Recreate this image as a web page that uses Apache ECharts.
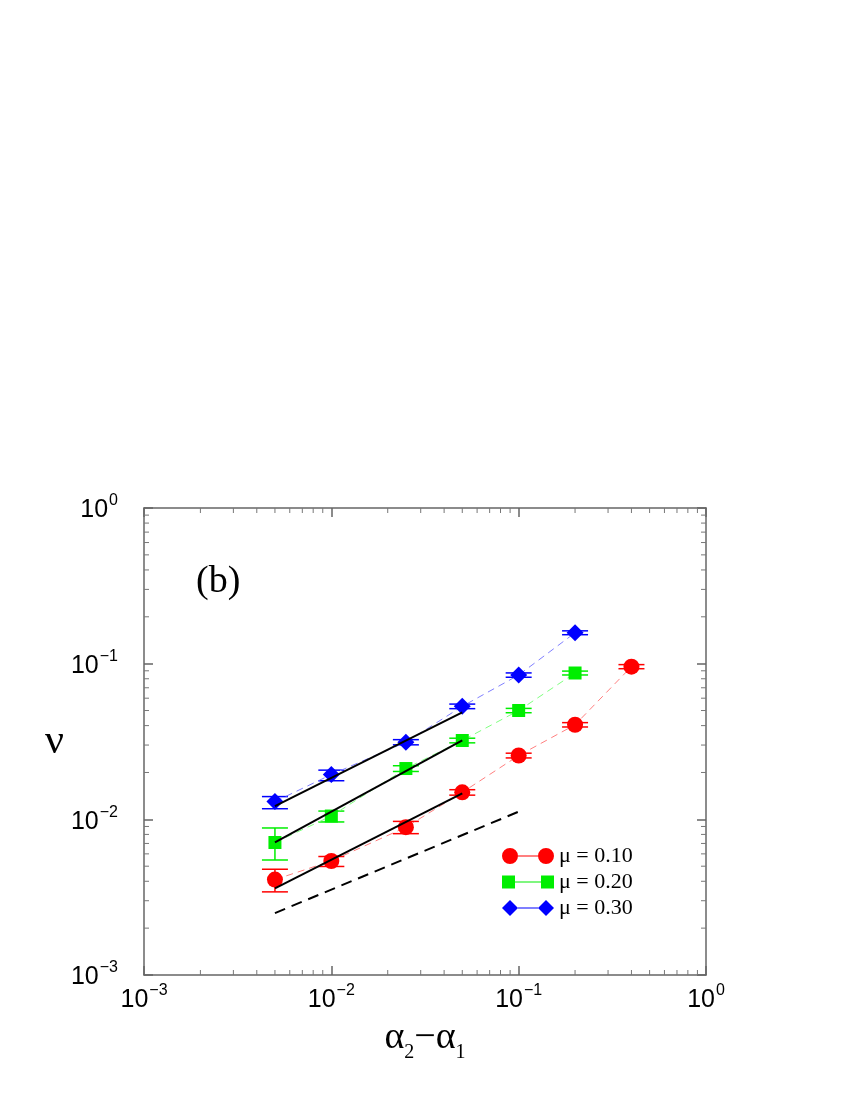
<!DOCTYPE html>
<html lang="en">
<head>
    <meta charset="UTF-8">
    <title>nu vs alpha2-alpha1</title>
    <script src="https://cdn.jsdelivr.net/npm/echarts@6/dist/echarts.min.js"></script>
</head>
<body style="margin:0;background:#fff;">
<div id="main" style="width: 850px;height:1100px;"></div>

<script type="text/javascript">
    // data
    var xs10 = [0.005, 0.01, 0.025, 0.05, 0.1, 0.2, 0.4];
    var nu10 = [0.0041, 0.0054, 0.0089, 0.0149, 0.0257, 0.0405, 0.0957];
    var lo10 = [0.00342, 0.00498, 0.00809, 0.0143, 0.0248, 0.0392, 0.0928];
    var hi10 = [0.00478, 0.00577, 0.0097, 0.0155, 0.0266, 0.0418, 0.0986];

    var xs20 = [0.005, 0.01, 0.025, 0.05, 0.1, 0.2];
    var nu20 = [0.0071, 0.0105, 0.0212, 0.0321, 0.050, 0.0871];
    var lo20 = [0.00548, 0.00962, 0.0203, 0.0310, 0.0484, 0.0846];
    var hi20 = [0.0088, 0.0113, 0.0221, 0.0332, 0.0516, 0.0896];

    var xs30 = [0.005, 0.01, 0.025, 0.05, 0.1, 0.2];
    var nu30 = [0.0130, 0.0194, 0.0313, 0.0532, 0.0845, 0.158];
    var lo30 = [0.0117, 0.0177, 0.0301, 0.0514, 0.0818, 0.1535];
    var hi30 = [0.0140, 0.0207, 0.0325, 0.0550, 0.0872, 0.1625];

    // black fit lines and the dashed guide (end points)
    var fit10 = [[0.005, 0.0036], [0.05, 0.0147]];
    var fit20 = [[0.005, 0.0071], [0.05, 0.0321]];
    var fit30 = [[0.005, 0.01217], [0.05, 0.0487]];
    var guide = [[0.005, 0.0025], [0.1, 0.0112]];

    var xMin = 0.001, xMax = 1, yMin = 0.001, yMax = 1;
    var minorX = [0.002, 0.003, 0.004, 0.005, 0.006, 0.007, 0.008, 0.009,
                  0.02, 0.03, 0.04, 0.05, 0.06, 0.07, 0.08, 0.09,
                  0.2, 0.3, 0.4, 0.5, 0.6, 0.7, 0.8, 0.9];
    var minorY = minorX;

    var names = ['\u03bc = 0.10', '\u03bc = 0.20', '\u03bc = 0.30'];
    var colors = ['#ff0000', '#00ee00', '#0000ff'];
    var lineColors = ['#ff8080', '#80ff80', '#8080ff'];

    function pairs(xs, ys) {
        return xs.map(function (x, i) { return [x, ys[i]]; });
    }
    function errPairs(xs, lo, hi) {
        return xs.map(function (x, i) { return [x, lo[i], hi[i]]; });
    }

    function errorSeries(xs, lo, hi, color) {
        return {
            type: 'custom',
            data: errPairs(xs, lo, hi),
            encode: {x: 0, y: [1, 2]},
            z: 3,
            renderItem: function (params, api) {
                var x = api.value(0);
                var a = api.coord([x, api.value(1)]);
                var b = api.coord([x, api.value(2)]);
                var w = 13;
                var st = {stroke: color, lineWidth: 1.5};
                return {
                    type: 'group',
                    children: [
                        {type: 'line', shape: {x1: a[0], y1: a[1], x2: b[0], y2: b[1]}, style: st},
                        {type: 'line', shape: {x1: a[0] - w, y1: a[1], x2: a[0] + w, y2: a[1]}, style: st},
                        {type: 'line', shape: {x1: b[0] - w, y1: b[1], x2: b[0] + w, y2: b[1]}, style: st}
                    ]
                };
            }
        };
    }

    function fitSeries(d, dashed) {
        return {
            type: 'line',
            data: d,
            symbol: 'none',
            z: 6,
            lineStyle: {color: '#000', width: 2, type: dashed ? [11, 7] : 'solid'},
            silent: true
        };
    }

    function minorTicks(axis) {
        return {
            type: 'custom',
            silent: true,
            z: 1,
            data: axis === 'x' ? minorX.map(function (v) { return [v, yMin]; })
                               : minorY.map(function (v) { return [xMin, v]; }),
            renderItem: function (params, api) {
                var st = {stroke: '#777', lineWidth: 1};
                if (axis === 'x') {
                    var b = api.coord([api.value(0), yMin]);
                    var t = api.coord([api.value(0), yMax]);
                    return {type: 'group', children: [
                        {type: 'line', shape: {x1: b[0], y1: b[1], x2: b[0], y2: b[1] - 5}, style: st},
                        {type: 'line', shape: {x1: t[0], y1: t[1], x2: t[0], y2: t[1] + 5}, style: st}
                    ]};
                }
                var l = api.coord([xMin, api.value(1)]);
                var r = api.coord([xMax, api.value(1)]);
                return {type: 'group', children: [
                    {type: 'line', shape: {x1: l[0], y1: l[1], x2: l[0] + 5, y2: l[1]}, style: st},
                    {type: 'line', shape: {x1: r[0], y1: r[1], x2: r[0] - 5, y2: r[1]}, style: st}
                ]};
            }
        };
    }

    function powLabel(v) {
        var e = Math.round(Math.log10(v));
        return '{b|10}{s|' + (e < 0 ? '\u2212' + (-e) : e) + '}';
    }
    var labelStyle = {
        fontFamily: 'Liberation Sans', fontSize: 25, color: '#000',
        rich: {
            b: {fontFamily: 'Liberation Sans', fontSize: 25, color: '#000', lineHeight: 30, verticalAlign: 'bottom'},
            s: {fontFamily: 'Liberation Sans', fontSize: 16, color: '#000', lineHeight: 16, verticalAlign: 'top', padding: [0, 0, 0, 1]}
        }
    };

    function baseAxis(pos, showLabel) {
        return {
            type: 'log', logBase: 10, position: pos,
            axisLine: {show: true, onZero: false, lineStyle: {color: '#666', width: 1.5}},
            axisTick: {show: true, inside: true, length: 9, lineStyle: {color: '#666', width: 1.5}},
            splitLine: {show: false},
            axisLabel: Object.assign({show: showLabel, formatter: powLabel}, labelStyle)
        };
    }

    var xBottom = Object.assign(baseAxis('bottom', true), {
        min: xMin, max: xMax,
        name: '{a|\u03b1}{s|2}{a|\u2212\u03b1}{s|1}', nameLocation: 'middle', nameGap: 44,
        nameTextStyle: {
            fontFamily: 'Liberation Serif', fontSize: 36, color: '#000',
            rich: {
                a: {fontFamily: 'Liberation Serif', fontSize: 38, lineHeight: 44, verticalAlign: 'top'},
                s: {fontFamily: 'Liberation Serif', fontSize: 20, lineHeight: 20, verticalAlign: 'bottom'}
            }
        }
    });
    xBottom.axisLabel.margin = 8;
    var xTop = Object.assign(baseAxis('top', false), {min: xMin, max: xMax});
    var yLeft = Object.assign(baseAxis('left', true), {
        min: yMin, max: yMax,
        name: '\u03bd', nameLocation: 'middle', nameRotate: 0, nameGap: 80,
        nameTextStyle: {fontFamily: 'Liberation Serif', fontSize: 42, color: '#000'}
    });
    yLeft.axisLabel.margin = 26;
    var yRight = Object.assign(baseAxis('right', false), {min: yMin, max: yMax});

    var legendIcons = [
        'path://M0,8a8,8 0 1,0 16,0a8,8 0 1,0 -16,0ZM16,7.5L36,7.5L36,8.5L16,8.5ZM36,8a8,8 0 1,0 16,0a8,8 0 1,0 -16,0Z',
        'path://M2,2L14,2L14,14L2,14ZM14,7.5L38,7.5L38,8.5L14,8.5ZM38,2L50,2L50,14L38,14Z',
        'path://M0,8L8,0L16,8L8,16ZM16,7.5L36,7.5L36,8.5L16,8.5ZM36,8L44,0L52,8L44,16Z'
    ];

    var myChart = echarts.init(document.getElementById('main'));

    myChart.setOption({
        animation: false,
        backgroundColor: '#fff',
        grid: {left: 144, right: 144, top: 508, bottom: 125, containLabel: false},
        graphic: [{
            type: 'text', left: 196, top: 563,
            style: {text: '(b)', fontFamily: 'Liberation Serif', fontSize: 38, fill: '#000'}
        }],
        legend: {
            orient: 'vertical', left: 497, top: 840,
            itemWidth: 52, itemHeight: 16, itemGap: 4,
            textStyle: {fontFamily: 'Liberation Serif', fontSize: 22, color: '#000', lineHeight: 20},
            data: names.map(function (n, i) { return {name: n, icon: legendIcons[i]}; })
        },
        xAxis: [xBottom, xTop],
        yAxis: [yLeft, yRight],
        series: [
            minorTicks('x'),
            minorTicks('y'),
            errorSeries(xs10, lo10, hi10, colors[0]),
            errorSeries(xs20, lo20, hi20, colors[1]),
            errorSeries(xs30, lo30, hi30, colors[2]),
            {
                name: names[0], type: 'line', data: pairs(xs10, nu10), z: 4,
                symbol: 'circle', symbolSize: 16,
                itemStyle: {color: colors[0]},
                lineStyle: {color: lineColors[0], width: 1, type: [7, 5]}
            },
            {
                name: names[1], type: 'line', data: pairs(xs20, nu20), z: 4,
                symbol: 'rect', symbolSize: 13,
                itemStyle: {color: colors[1]},
                lineStyle: {color: lineColors[1], width: 1, type: [7, 5]}
            },
            {
                name: names[2], type: 'line', data: pairs(xs30, nu30), z: 4,
                symbol: 'diamond', symbolSize: 17,
                itemStyle: {color: colors[2]},
                lineStyle: {color: lineColors[2], width: 1, type: [7, 5]}
            },
            fitSeries(fit10, false),
            fitSeries(fit20, false),
            fitSeries(fit30, false),
            fitSeries(guide, true)
        ]
    });
</script>
</body>
</html>
